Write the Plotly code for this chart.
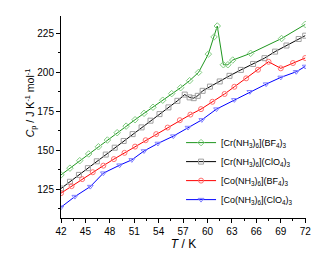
import plotly.graph_objects as go

# --- data ---
T_cr_bf4 = [42, 43.1, 44.3, 45.4, 46.6, 47.7, 48.9, 50.0, 51.1, 52.2, 53.3, 54.5, 55.6, 56.7,
            57.8, 58.9, 60.1, 60.8, 61.2, 61.95, 62.5, 63.1, 65.3, 69.1, 72]
C_cr_bf4 = [134.2, 138.5, 143.3, 147.6, 152.2, 156.5, 161.2, 165.4, 169.5, 173.6, 177.5, 182.0, 186.2, 190.0,
            194.5, 199.8, 211.5, 222.5, 229.5, 204.7, 204.7, 207.7, 212.0, 221.5, 230.5]

T_cr_clo4 = [42, 43.1, 44.2, 45.3, 46.4, 47.5, 48.6, 49.7, 50.8, 51.9, 53.0, 54.1, 55.2, 56.3,
             57.2, 57.8, 58.3, 58.8, 59.4, 60.3, 61.5, 62.7, 64.1, 65.6, 67.0, 68.3, 69.7, 71.2, 72]
C_cr_clo4 = [125.5, 129.8, 134.2, 138.5, 142.9, 147.2, 151.6, 155.9, 160.3, 164.6, 168.9, 173.1, 177.4, 181.6,
             185.6, 183.8, 183.3, 184.8, 188.0, 190.7, 194.0, 197.6, 201.4, 205.2, 208.9, 213.1, 217.0, 221.2, 223.3]

T_co_bf4 = [42, 43.3, 44.6, 45.9, 47.2, 48.5, 49.8, 51.1, 52.4, 53.7, 55.1, 56.6, 57.9, 59.2,
            60.6, 62.1, 63.3, 64.75, 66.2, 67.5, 69.0, 70.5, 72]
C_co_bf4 = [122.5, 127.0, 131.5, 135.9, 140.1, 144.3, 148.3, 152.3, 156.4, 160.3, 164.5, 169.2, 172.8, 176.3,
            181.0, 186.0, 190.6, 196.0, 201.5, 206.6, 202.4, 205.8, 209.0]

T_co_clo4 = [42, 43.7, 45.6, 47.2, 49.2, 50.7, 52.2, 53.9, 55.8, 57.6, 59.3, 61.1, 63.3, 65.2,
             67.2, 69.0, 70.9, 72]
C_co_clo4 = [113.5, 120.3, 126.7, 135.3, 140.4, 143.8, 149.5, 154.3, 159.0, 164.5, 169.4, 176.3, 182.2, 187.4,
             192.3, 196.6, 200.2, 203.6]

names = ["[Cr(NH<sub>3</sub>)<sub>6</sub>](BF<sub>4</sub>)<sub>3</sub>",
         "[Cr(NH<sub>3</sub>)<sub>6</sub>](ClO<sub>4</sub>)<sub>3</sub>",
         "[Co(NH<sub>3</sub>)<sub>6</sub>](BF<sub>4</sub>)<sub>3</sub>",
         "[Co(NH<sub>3</sub>)<sub>6</sub>](ClO<sub>4</sub>)<sub>3</sub>"]

x_ticks = [42, 45, 48, 51, 54, 57, 60, 63, 66, 69, 72]
y_ticks = [125, 150, 175, 200, 225]

series = [
    (T_cr_bf4, C_cr_bf4, names[0], "rgb(30,150,30)", "rgb(130,205,130)", "diamond-open"),
    (T_cr_clo4, C_cr_clo4, names[1], "rgb(0,0,0)", "rgb(160,160,160)", "square-open"),
    (T_co_bf4, C_co_bf4, names[2], "rgb(255,0,0)", "rgb(255,110,110)", "circle-open"),
    (T_co_clo4, C_co_clo4, names[3], "rgb(0,0,255)", "rgb(130,130,255)", "triangle-down-open"),
]

fig = go.Figure()
for xs, ys, nm, lc, mc, sym in series:
    fig.add_trace(go.Scatter(
        x=xs, y=ys, name=nm, mode="lines+markers",
        line=dict(color=lc, width=1),
        marker=dict(symbol=sym, size=5, color=mc, line=dict(color=mc, width=1)),
    ))

fig.update_layout(
    width=330, height=266,
    margin=dict(l=61, r=24, t=16, b=48),
    paper_bgcolor="white", plot_bgcolor="white",
    font=dict(family="Liberation Sans, Arial, sans-serif", size=10, color="black"),
    showlegend=True,
    legend=dict(x=0.49, y=0.445, xanchor="left", yanchor="top",
                bgcolor="rgba(0,0,0,0)", font=dict(size=9),
                tracegroupgap=0, itemwidth=30),
    annotations=[dict(
        text="<i>C</i><sub>p</sub> / J K<sup>-1</sup> mol<sup>-1</sup>",
        xref="paper", yref="paper", x=-0.125, y=0.57, textangle=-90,
        showarrow=False, font=dict(size=10.5), xanchor="center", yanchor="middle")],
)

fig.update_xaxes(
    range=[42, 72.1], tickvals=x_ticks, ticktext=[str(v) for v in x_ticks],
    showgrid=False, zeroline=False, showline=True, linecolor="black", linewidth=1,
    ticks="outside", ticklen=4, tickcolor="black",
    minor=dict(ticks="outside", ticklen=2, dtick=1.5, tick0=42, tickcolor="black"),
    title=dict(text="<i>T</i> / K", font=dict(size=12), standoff=3),
)
fig.update_yaxes(
    range=[106.6, 235.9], tickvals=y_ticks, ticktext=[str(v) for v in y_ticks],
    showgrid=False, zeroline=False, showline=True, linecolor="black", linewidth=1,
    ticks="outside", ticklen=4, tickcolor="black",
    minor=dict(ticks="outside", ticklen=2, dtick=12.5, tick0=112.5, tickcolor="black"),
)

fig.write_html("out.html")
